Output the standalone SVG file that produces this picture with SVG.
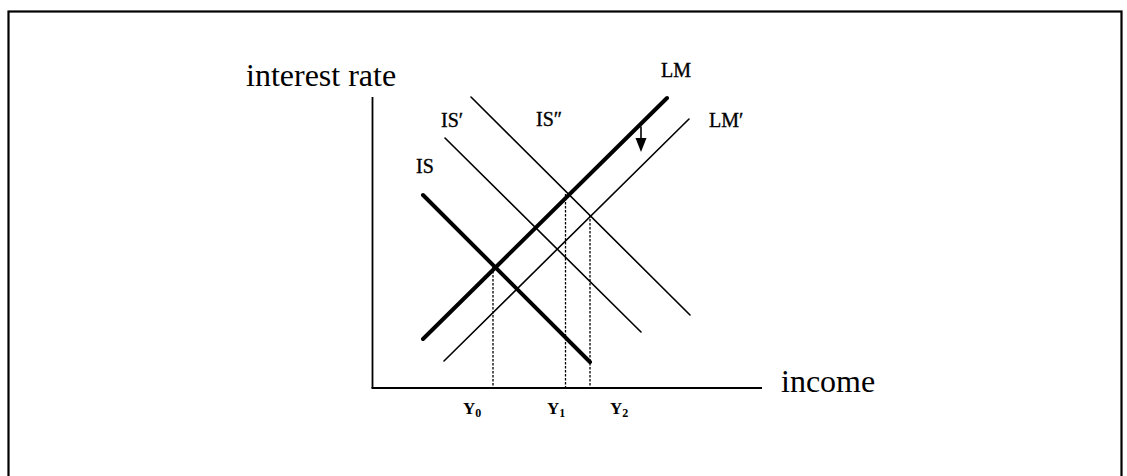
<svg xmlns="http://www.w3.org/2000/svg" width="1127" height="476" viewBox="0 0 1127 476">
<style>
.lbl{font-family:"Liberation Serif","Times New Roman",serif;fill:#000}
.big{font-size:32px}
.sm{font-size:20px;stroke:#000;stroke-width:0.35}
.ys{font-size:17px;font-weight:bold}
.sub{font-size:12px;font-weight:bold}
.thin{stroke:#000;stroke-width:1.6;fill:none;stroke-linecap:round}
.thick{stroke:#000;stroke-width:4;fill:none;stroke-linecap:round}
.axis{stroke:#000;stroke-width:1.8;fill:none}
.dot{stroke:#000;stroke-width:1.3;fill:none;stroke-dasharray:2.5 1.5}
</style>
<rect x="0" y="0" width="1127" height="476" fill="#fff"/>
<rect id="frame" x="8.5" y="11.5" width="1113" height="480" fill="none" stroke="#000" stroke-width="2.2"/>
<g id="axes">
<line class="axis" x1="372.5" y1="97" x2="372.5" y2="388"/>
<line class="axis" x1="371.5" y1="388" x2="762" y2="388"/>
<text class="lbl big" x="246" y="86">interest rate</text>
<text class="lbl big" x="781" y="392">income</text>
</g>
<g id="connectors">
<line id="dY0" class="dot" x1="493" y1="267" x2="493" y2="388"/>
<line id="dY1" class="dot" x1="565.5" y1="194" x2="565.5" y2="388"/>
<line id="dY2" class="dot" x1="590" y1="215" x2="590" y2="388"/>
</g>
<g id="IS">
<line class="thick" x1="423" y1="195" x2="590" y2="362"/>
<text class="lbl sm" x="416" y="173">IS</text>
</g>
<g id="ISp">
<line class="thin" x1="445" y1="138" x2="641" y2="332"/>
<text class="lbl sm" x="441" y="127">IS′</text>
</g>
<g id="ISpp">
<line class="thin" x1="471" y1="97" x2="690" y2="315"/>
<text class="lbl sm" x="536" y="126">IS″</text>
</g>
<g id="LM">
<line class="thick" x1="423" y1="339" x2="667" y2="98"/>
<text class="lbl sm" x="661" y="77">LM</text>
</g>
<g id="LMp">
<line class="thin" x1="444" y1="361" x2="689" y2="119"/>
<text class="lbl sm" x="709" y="127">LM′</text>
</g>
<g id="shift">
<line class="thin" x1="641" y1="127" x2="641" y2="140"/>
<polygon points="635.5,138 646.5,138 641,152" fill="#000"/>
</g>
<g id="ylabels">
<text class="lbl ys" x="463" y="414">Y<tspan class="sub" dy="3">0</tspan></text>
<text class="lbl ys" x="547" y="414">Y<tspan class="sub" dy="3">1</tspan></text>
<text class="lbl ys" x="610" y="414">Y<tspan class="sub" dy="3">2</tspan></text>
</g>
</svg>
